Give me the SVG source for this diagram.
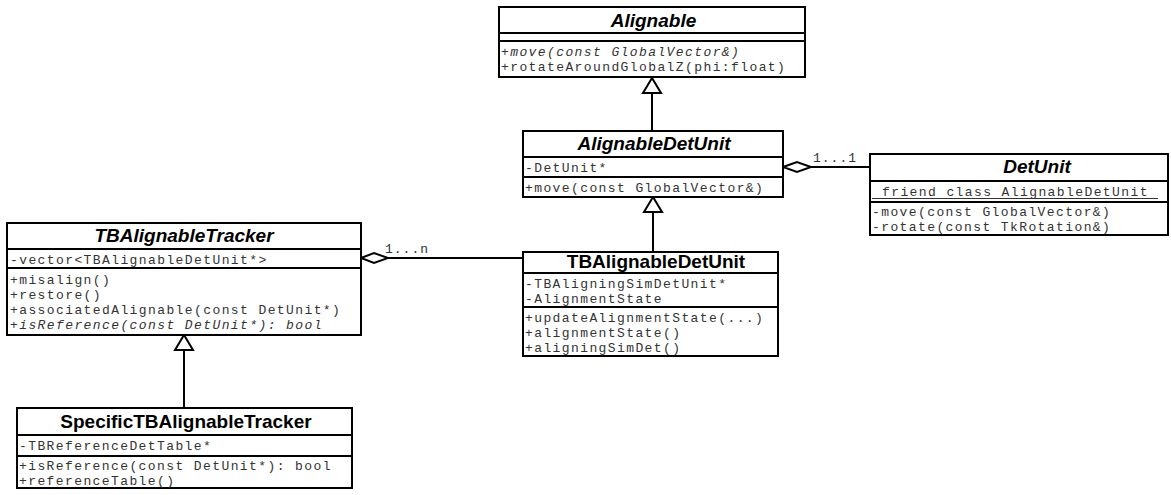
<svg xmlns="http://www.w3.org/2000/svg" width="1171" height="495" viewBox="0 0 1171 495">
<style>
.box{fill:#fff;stroke:#000;stroke-width:2}
.sep{stroke:#000;stroke-width:1.8}
.title{font-family:"Liberation Sans",Arial,sans-serif;font-size:19px;font-weight:bold;fill:#000;text-anchor:middle}
.abs{font-style:italic}
.mem{font-family:"Liberation Mono","Courier New",monospace;font-size:13px;letter-spacing:1.4px;fill:#333}
.it{font-style:italic}
.lbl{font-family:"Liberation Mono","Courier New",monospace;font-size:13px;letter-spacing:1px;fill:#333}
.conn{stroke:#000;stroke-width:2;fill:none}
.head{fill:#fff;stroke:#000;stroke-width:2;stroke-linejoin:miter}
</style>
<rect width="1171" height="495" fill="#fff"/>
<g id="connectors">
<line class="conn" x1="652" y1="131" x2="652" y2="93"/>
<polygon class="head" points="652,78 643,93 661,93"/>
<line class="conn" x1="653" y1="252" x2="653" y2="212"/>
<polygon class="head" points="653,197 644,212 662,212"/>
<line class="conn" x1="184" y1="408" x2="184" y2="350"/>
<polygon class="head" points="184,335 175,350 193,350"/>
<line class="conn" x1="811" y1="167" x2="870" y2="167"/>
<polygon class="head" points="783,167 797,162 811,167 797,172"/>
<text class="lbl" x="813" y="162">1...1</text>
<line class="conn" x1="388" y1="258" x2="523" y2="258"/>
<polygon class="head" points="361,258 374,253 388,258 374,263"/>
<text class="lbl" x="385" y="253">1...n</text>
</g>
<g id="Alignable">
<rect class="box" x="499" y="7" width="306" height="70"/>
<line class="sep" x1="499" y1="33" x2="805" y2="33"/>
<line class="sep" x1="499" y1="41" x2="805" y2="41"/>
<text class="title abs" x="653.5" y="27">Alignable</text>
<text class="mem it" x="501" y="56">+move(const GlobalVector&amp;)</text>
<text class="mem" x="501" y="71">+rotateAroundGlobalZ(phi:float)</text>
</g>
<g id="AlignableDetUnit">
<rect class="box" x="523" y="131" width="260" height="66"/>
<line class="sep" x1="523" y1="157" x2="783" y2="157"/>
<line class="sep" x1="523" y1="177" x2="783" y2="177"/>
<text class="title abs" x="654" y="150">AlignableDetUnit</text>
<text class="mem" x="525" y="172">-DetUnit*</text>
<text class="mem" x="525" y="192">+move(const GlobalVector&amp;)</text>
</g>
<g id="DetUnit">
<rect class="box" x="870" y="154" width="298" height="81"/>
<line class="sep" x1="870" y1="181" x2="1168" y2="181"/>
<line class="sep" x1="870" y1="202" x2="1168" y2="202"/>
<text class="title abs" x="1037" y="173">DetUnit</text>
<text class="mem" x="882" y="196">friend class AlignableDetUnit</text>
<line x1="872" y1="198.5" x2="1158" y2="198.5" stroke="#333" stroke-width="1"/>
<text class="mem" x="872" y="216">-move(const GlobalVector&amp;)</text>
<text class="mem" x="872" y="231">-rotate(const TkRotation&amp;)</text>
</g>
<g id="TBAlignableTracker">
<rect class="box" x="7" y="223" width="354" height="112"/>
<line class="sep" x1="7" y1="249" x2="361" y2="249"/>
<line class="sep" x1="7" y1="268" x2="361" y2="268"/>
<text class="title abs" x="184" y="242">TBAlignableTracker</text>
<text class="mem" x="10" y="264">-vector&lt;TBAlignableDetUnit*&gt;</text>
<text class="mem" x="10" y="284">+misalign()</text>
<text class="mem" x="10" y="299">+restore()</text>
<text class="mem" x="10" y="314">+associatedAlignable(const DetUnit*)</text>
<text class="mem it" x="10" y="329">+isReference(const DetUnit*): bool</text>
</g>
<g id="TBAlignableDetUnit">
<rect class="box" x="523" y="252" width="255" height="104"/>
<line class="sep" x1="523" y1="273" x2="778" y2="273"/>
<line class="sep" x1="523" y1="307" x2="778" y2="307"/>
<text class="title" x="656" y="268">TBAlignableDetUnit</text>
<text class="mem" x="525" y="288">-TBAligningSimDetUnit*</text>
<text class="mem" x="525" y="303">-AlignmentState</text>
<text class="mem" x="525" y="322">+updateAlignmentState(...)</text>
<text class="mem" x="525" y="337">+alignmentState()</text>
<text class="mem" x="525" y="352">+aligningSimDet()</text>
</g>
<g id="SpecificTBAlignableTracker">
<rect class="box" x="17" y="408" width="335" height="80"/>
<line class="sep" x1="17" y1="435" x2="352" y2="435"/>
<line class="sep" x1="17" y1="456" x2="352" y2="456"/>
<text class="title" x="186" y="428">SpecificTBAlignableTracker</text>
<text class="mem" x="19" y="450">-TBReferenceDetTable*</text>
<text class="mem" x="19" y="470">+isReference(const DetUnit*): bool</text>
<text class="mem" x="19" y="485">+referenceTable()</text>
</g>
</svg>
